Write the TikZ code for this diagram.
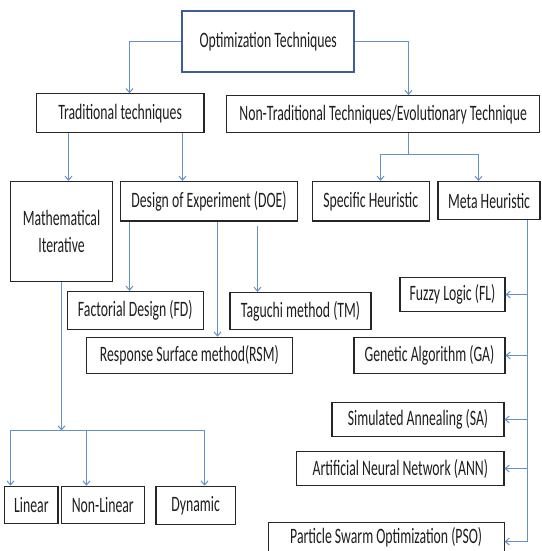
\documentclass[tikz,border=0pt]{standalone}
\usepackage{fontspec}
\setmainfont{Carlito}[FakeStretch=0.625]
\usetikzlibrary{arrows.meta}
\definecolor{linkblue}{HTML}{6690C8}
\definecolor{frameblue}{HTML}{3E5F96}
\definecolor{inkgray}{HTML}{1E1E1E}

\begin{document}
\begin{tikzpicture}[x=1pt, y=-1pt, line join=miter,
  box/.style={draw=black!85, line width=1.1pt, inner sep=0pt, align=center,
              text=inkgray, font=\fontsize{22}{27}\selectfont},
  conn/.style={draw=linkblue, line width=1pt, -{Straight Barb[length=4pt,width=7pt]}},
  wire/.style={draw=linkblue, line width=1pt}]

  %% ════ 方框（节点）════
  \node[box, draw=frameblue, line width=2pt, minimum width=172.5pt, minimum height=61.4pt] (opt) at (268.2,41.5) {Optimization Techniques};   % box(182,10,172,61)
  \node[box, minimum width=167.8pt, minimum height=39.0pt] (trad) at (120.1,113.3) {Traditional techniques};
  \node[box, minimum width=313.0pt, minimum height=37.0pt] (nontrad) at (383.2,114.2) {Non-Traditional Techniques/Evolutionary Technique};
  \node[box, minimum width=102.5pt, minimum height=100.0pt] (math) at (61.5,231.4) {Mathematical\\Iterative};
  \node[box, minimum width=176.5pt, minimum height=39.6pt] (doe) at (209.0,201.2) {Design of Experiment (DOE)};
  \node[box, minimum width=117.3pt, minimum height=39.6pt] (spec) at (370.7,201.2) {Specific Heuristic};
  \node[box, minimum width=102.0pt, minimum height=38.0pt] (meta) at (489.0,200.5) {Meta Heuristic};
  \node[box, minimum width=136.2pt, minimum height=38.0pt] (fd) at (135.3,310.4) {Factorial Design (FD)};
  \node[box, minimum width=141.0pt, minimum height=37.0pt] (tm) at (300.5,310.9) {Taguchi method (TM)};
  \node[box, minimum width=206.2pt, minimum height=36.2pt] (rsm) at (189.3,355.3) {Response Surface method(RSM)};
  \node[box, minimum width=105.0pt, minimum height=34.5pt] (fl) at (452.5,294.5) {Fuzzy Logic (FL)};
  \node[box, minimum width=151.0pt, minimum height=35.2pt] (ga) at (429.5,355.5) {Genetic Algorithm (GA)};
  \node[box, minimum width=172.0pt, minimum height=34.0pt] (sa) at (418.0,419.5) {Simulated Annealing (SA)};
  \node[box, minimum width=207.4pt, minimum height=34.5pt] (ann) at (400.3,468.5) {Artificial Neural Network (ANN)};
  \node[box, minimum width=235.7pt, minimum height=30.2pt] (pso) at (386.2,537.5) {Particle Swarm Optimization (PSO)};   % 下边出画布
  \node[box, minimum width=53.2pt, minimum height=37.0pt] (lin) at (31.4,504.7) {Linear};
  \node[box, minimum width=82.7pt, minimum height=37.0pt] (nonlin) at (102.8,504.7) {Non-Linear};
  \node[box, minimum width=79.3pt, minimum height=38.6pt] (dyn) at (195.6,505.5) {Dynamic};

  %% ════ 分叉点 ════
  \coordinate (hsplit) at (408.5,154.5);
  \coordinate (lsplit) at (61.5,430.5);
  \coordinate (mtop) at ([xshift=38.5pt]meta.south);

  %% ════ 连线 ════
  \draw[conn] (opt.west) -| ([xshift=9.4pt]trad.north);
  \draw[conn] (opt.east) -| ([xshift=25.3pt]nontrad.north);
  \draw[conn] ([xshift=-51.6pt]trad.south) -- ([xshift=7pt]math.north);
  \draw[conn] ([xshift=62.4pt]trad.south) -- ([xshift=-26.5pt]doe.north);
  \draw[wire] ([xshift=25.3pt]nontrad.south) -- (hsplit);
  \draw[conn] (hsplit) -| ([xshift=9.8pt]spec.north);
  \draw[conn] (hsplit) -| ([xshift=-10.5pt]meta.north);
  \draw[conn] ([xshift=-79.5pt]doe.south) -- ([xshift=-5.8pt]fd.north);
  \draw[conn] ([xshift=8.5pt]doe.south) -- ([xshift=28.2pt]rsm.north);
  \draw[conn] ([xshift=48.5pt,yshift=-4.5pt]doe.south) -- ([xshift=-43pt]tm.north);
  \draw[conn] (mtop) |- ([yshift=-4pt]pso.east);
  \foreach \b in {fl,ga,sa,ann}
    \draw[conn] (mtop |- \b.east) -- (\b.east);
  \draw[conn] (math.south) -- (lsplit);
  \draw[conn] (lsplit) -| ([xshift=-20.9pt]lin.north);
  \draw[conn] (lsplit) -| ([xshift=-16.3pt]nonlin.north);
  \draw[conn] (lsplit) -| ([xshift=8.9pt]dyn.north);

  % 钉死画布
  \pgfresetboundingbox
  \path[use as bounding box] (0,0) rectangle (541,551);
\end{tikzpicture}
\end{document}
